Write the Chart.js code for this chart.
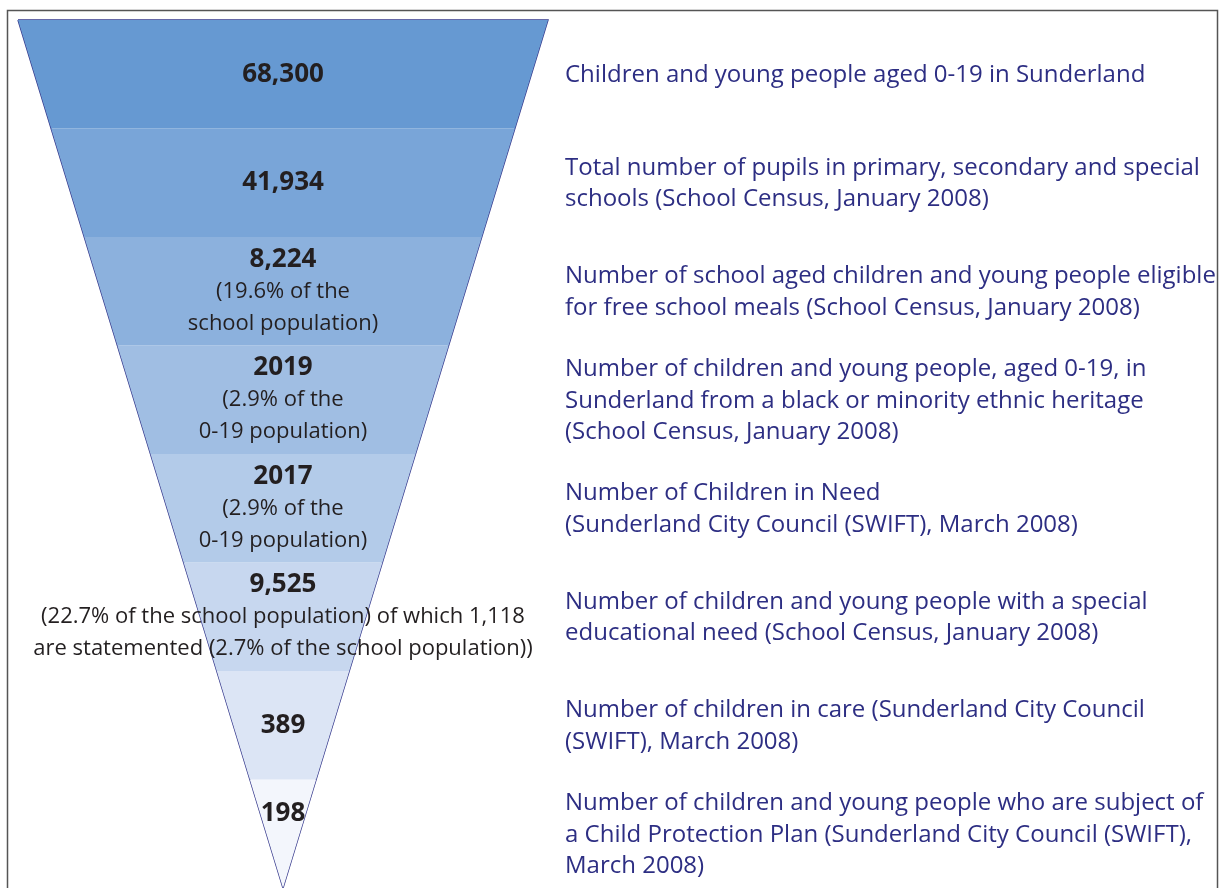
<!DOCTYPE html>
<html>
<head>
<meta charset="utf-8">
<script src="https://cdn.jsdelivr.net/npm/chart.js@4.4.1/dist/chart.umd.min.js"></script>
<style>
  html, body { margin: 0; padding: 0; background: #fff; }
  #wrap { width: 1225px; height: 888px; position: relative; }
</style>
</head>
<body>
<div id="wrap"><canvas id="funnel"></canvas></div>
<script>
// funnel levels, top to bottom
const counts = ['68,300', '41,934', '8,224', '2019', '2017', '9,525', '389', '198'];
const notes = [
  [],
  [],
  ['(19.6% of the', 'school population)'],
  ['(2.9% of the', '0-19 population)'],
  ['(2.9% of the', '0-19 population)'],
  ['(22.7% of the school population) of which 1,118', 'are statemented (2.7% of the school population))'],
  [],
  []
];
const descriptions = [
  ['Children and young people aged 0-19 in Sunderland'],
  ['Total number of pupils in primary, secondary and special', 'schools (School Census, January 2008)'],
  ['Number of school aged children and young people eligible', 'for free school meals (School Census, January 2008)'],
  ['Number of children and young people, aged 0-19, in', 'Sunderland from a black or minority ethnic heritage', '(School Census, January 2008)'],
  ['Number of Children in Need', '(Sunderland City Council (SWIFT), March 2008)'],
  ['Number of children and young people with a special', 'educational need (School Census, January 2008)'],
  ['Number of children in care (Sunderland City Council', '(SWIFT), March 2008)'],
  ['Number of children and young people who are subject of', 'a Child Protection Plan (Sunderland City Council (SWIFT),', 'March 2008)']
];
const bandColors = ['#6699d2', '#79a5d8', '#8cb1dd', '#a0bee3', '#b3cbe9', '#c7d7ef', '#dce5f5', '#f3f6fc'];

const levels = counts.length;
const halfWidth = y => 1 - y / levels;

// one closed trapezoid per level
const bandSets = counts.map((c, i) => ({
  data: [
    { x: -halfWidth(i), y: i },
    { x: halfWidth(i), y: i },
    { x: halfWidth(i + 1), y: i + 1 },
    { x: -halfWidth(i + 1), y: i + 1 },
    { x: -halfWidth(i), y: i }
  ],
  showLine: true,
  fill: 'shape',
  backgroundColor: bandColors[i],
  borderWidth: 0,
  pointRadius: 0,
  tension: 0
}));

const outline = {
  data: [
    { x: -1, y: 0 }, { x: 1, y: 0 }, { x: 0, y: levels }, { x: -1, y: 0 }
  ],
  showLine: true,
  fill: false,
  clip: false,
  borderColor: '#35388c',
  borderWidth: 1.4,
  pointRadius: 0,
  tension: 0
};

const frame = {
  id: 'frame',
  beforeDraw(chart) {
    const ctx = chart.ctx;
    ctx.save();
    ctx.strokeStyle = '#555';
    ctx.lineWidth = 1.5;
    ctx.strokeRect(7.5, 10.5, 1210, 900);
    ctx.restore();
  }
};

const labels = {
  id: 'labels',
  afterDatasetsDraw(chart) {
    const ctx = chart.ctx;
    const xs = chart.scales.x, ys = chart.scales.y;
    const cx = xs.getPixelForValue(0);
    const lh = 32;
    ctx.save();
    ctx.textBaseline = 'middle';
    counts.forEach((c, i) => {
      let mid = ys.getPixelForValue(i + 0.5);
      if (i === levels - 1) mid -= 20;
      const lines = [c].concat(notes[i]);
      let y = mid - (lines.length - 1) * lh / 2;
      ctx.textAlign = 'center';
      ctx.fillStyle = '#231f20';
      lines.forEach((t, k) => {
        ctx.font = k === 0 ? 'bold 26px "Open Sans"' : '22px "Open Sans"';
        ctx.fillText(t, cx, y + k * lh);
      });

      const d = descriptions[i];
      const dmid = ys.getPixelForValue(i + 0.5) + 1;
      let dy = dmid - (d.length - 1) * 31.5 / 2;
      ctx.textAlign = 'left';
      ctx.fillStyle = '#2d2e83';
      ctx.font = '24px "Open Sans"';
      d.forEach((t, k) => ctx.fillText(t, 565, dy + k * 31.5));
    });
    ctx.restore();
  }
};

new Chart(document.getElementById('funnel'), {
  type: 'scatter',
  data: { datasets: bandSets.concat([outline]) },
  options: {
    responsive: true,
    maintainAspectRatio: false,
    animation: false,
    layout: { padding: { left: 18, right: 677, top: 20, bottom: -1 } },
    plugins: { legend: { display: false }, tooltip: { enabled: false } },
    scales: {
      x: { type: 'linear', min: -1, max: 1, display: false },
      y: { type: 'linear', min: 0, max: levels, reverse: true, display: false }
    }
  },
  plugins: [frame, labels]
});
</script>
</body>
</html>
